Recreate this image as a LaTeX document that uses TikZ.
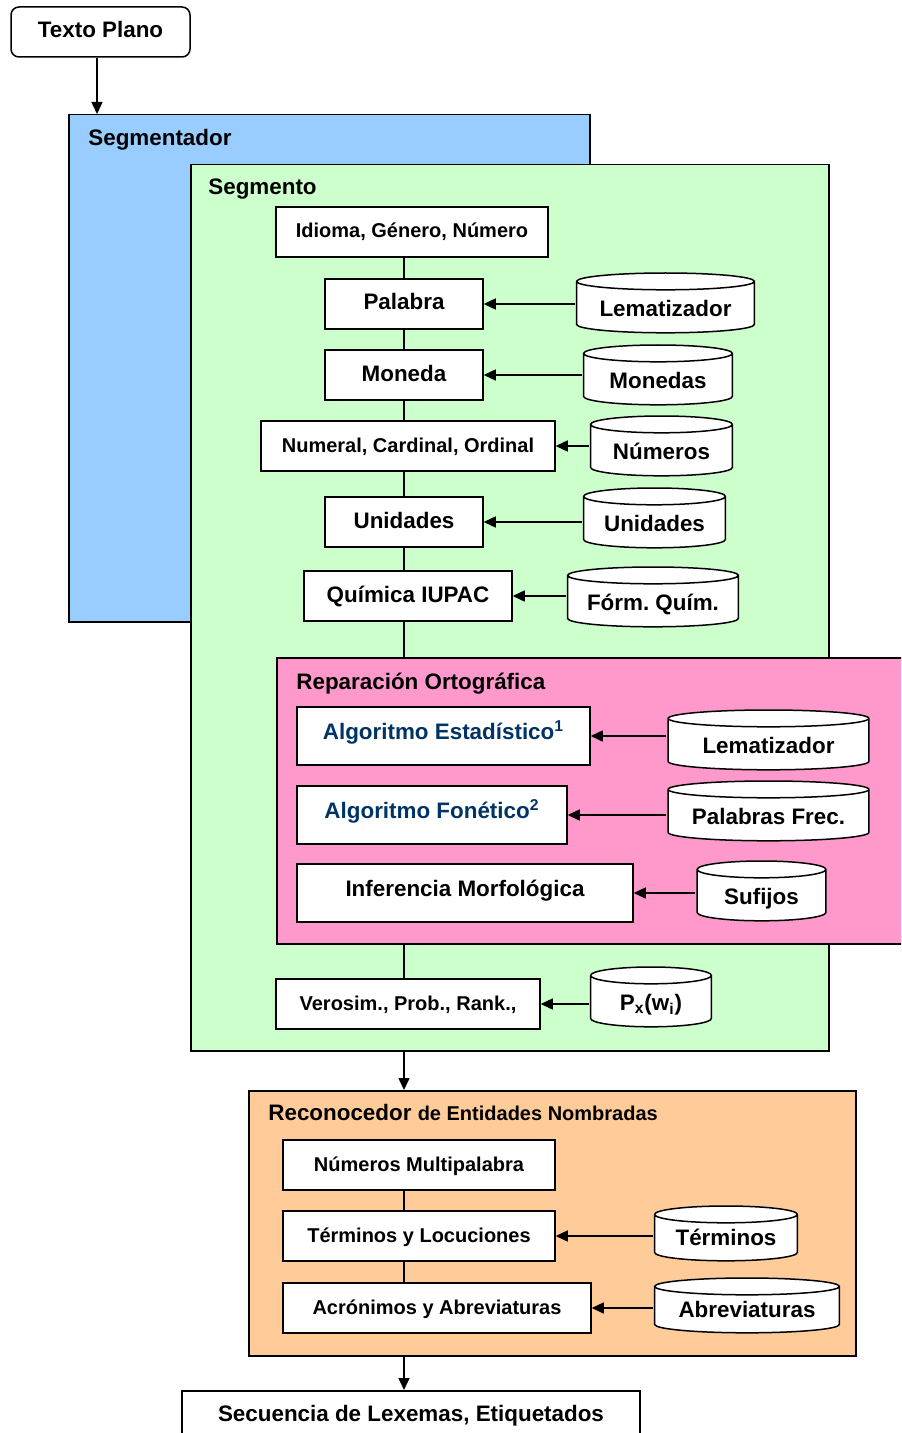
\documentclass[tikz,border=0pt]{standalone}
\usepackage{fontspec}
\setmainfont{Liberation Sans}
\usetikzlibrary{arrows.meta,calc}
\frenchspacing

\definecolor{segblue}{HTML}{99CCFF}
\definecolor{seggreen}{HTML}{CCFFCC}
\definecolor{reppink}{HTML}{FF99CC}
\definecolor{recorange}{HTML}{FFCC99}
\definecolor{algblue}{HTML}{003366}

\newcommand{\fbig}{\bfseries\fontsize{11.2}{13}\selectfont}
\newcommand{\fsmall}{\bfseries\fontsize{10}{12}\selectfont}

\tikzset{
    bigfont/.style={font=\fbig},
    smallfont/.style={font=\fsmall},
    panel/.style={draw, line width=0.75pt, inner sep=0pt, anchor=north west},
    title/.style={anchor=base west, inner sep=0pt},
    box/.style={draw, fill=white, line width=0.75pt, inner xsep=0pt, inner ysep=0pt,
        text height=15.5pt, text depth=9.5pt},
    tallbox/.style={box, text height=16pt, text depth=13pt},
    db/.style={bigfont, inner xsep=2pt, inner ysep=0pt, minimum width=#1,
        text height=22.5pt, text depth=9pt,
        path picture={
            \draw[fill=white, line width=0.75pt]
                let \p1=(path picture bounding box.south west),
                    \p2=(path picture bounding box.north east),
                    \n1={(\x2-\x1)/2-0.8pt} in
                ({\x1+0.8pt},{\y2-5pt}) -- ({\x1+0.8pt},{\y1+5pt})
                arc[start angle=180, end angle=360, x radius=\n1, y radius=4.2pt]
                -- ({\x2-0.8pt},{\y2-5pt})
                arc[start angle=0, end angle=180, x radius=\n1, y radius=4.2pt] -- cycle
                ({\x1+0.8pt},{\y2-5pt})
                arc[start angle=180, end angle=360, x radius=\n1, y radius=4.2pt];
        }},
    dbshort/.style={text height=20.5pt, text depth=8.5pt},
    link/.style={line width=0.75pt},
    arr/.style={line width=0.75pt, -{Triangle[length=6pt,width=5.5pt]}}
}

\begin{document}
\begin{tikzpicture}[x=0.5pt, y=-0.5pt]
    \useasboundingbox (0,0) rectangle (901,1433);
    \clip (0,0) rectangle (901,1433);

    % Input
    \node[box, bigfont, rounded corners=4pt, minimum width=89.5pt] (textoplano) at (100.5,32) {Texto Plano};

    % Segmentador
    \node[panel, fill=segblue, minimum width=260.5pt, minimum height=253.5pt] (segmentador) at (68,114) {};
    \node[title, bigfont] (segmentadortit) at (88,146) {Segmentador};

    % Segmento
    \node[panel, fill=seggreen, minimum width=319pt, minimum height=443pt] (segmento) at (190,164) {};
    \node[title, bigfont] (segmentotit) at (208,195) {Segmento};

    \node[box, smallfont, minimum width=136pt] (idioma) at (412,232) {Idioma, Género, Número};
    \node[box, bigfont, minimum width=79pt] (palabra) at (404,304) {Palabra};
    \node[box, bigfont, minimum width=79pt] (moneda) at (404,375) {Moneda};
    \node[box, smallfont, minimum width=147pt] (numeral) at (408,446) {Numeral, Cardinal, Ordinal};
    \node[box, bigfont, minimum width=79pt] (unidades) at (404,522) {Unidades};
    \node[box, bigfont, minimum width=104pt] (quimica) at (408,596) {Química IUPAC};

    \node[db=90.5pt, anchor=north] (lematizador) at (665.5,271) {Lematizador};
    \node[db=76pt, anchor=north] (monedas) at (658,343) {Monedas};
    \node[db=72.5pt, anchor=north] (numeros) at (661.5,414) {Números};
    \node[db=72.5pt, anchor=north] (unidadesdb) at (654.5,486) {Unidades};
    \node[db=87pt, anchor=north] (formulas) at (653,565) {Fórm. Quím.};

    \draw[link] (palabra.north) -- (palabra |- idioma.south);
    \foreach \a/\b in {palabra/moneda, moneda/numeral, numeral/unidades, unidades/quimica}
        \draw[link] (palabra |- \a.south) -- (palabra |- \b.north);
    \foreach \src/\dst in {lematizador/palabra, monedas/moneda, numeros/numeral, unidadesdb/unidades, formulas/quimica}
        \draw[arr] (\src.west |- \dst) -- (\dst.east);

    % Reparacion ortografica
    \node[panel, fill=reppink, minimum width=322pt, minimum height=143pt] (reparacion) at (276,657) {};
    \node[title, bigfont] (reparaciontit) at (296,689) {Reparación Ortográfica};

    \node[tallbox, bigfont, text=algblue, minimum width=146.5pt] (estadistico) at (443.5,736) {Algoritmo Estadístico\textsuperscript{1}};
    \node[tallbox, bigfont, text=algblue, minimum width=135pt] (fonetico) at (432,815) {Algoritmo Fonético\textsuperscript{2}};
    \node[tallbox, bigfont, minimum width=168pt] (morfologica) at (465,893) {Inferencia Morfológica};

    \node[db=102pt, anchor=north] (lematizadorb) at (768.5,708) {Lematizador};
    \node[db=102pt, anchor=north] (palabrasfrec) at (768.5,779) {Palabras Frec.};
    \node[db=66pt, anchor=north] (sufijos) at (761.5,859) {Sufijos};

    \foreach \src/\dst in {lematizadorb/estadistico, palabrasfrec/fonetico, sufijos/morfologica}
        \draw[arr] (\src.west |- \dst) -- (\dst.east);
    \draw[link] (palabra |- quimica.south) -- (palabra |- reparacion.north);

    % Verosimilitud
    \node[box, smallfont, minimum width=132pt] (verosim) at (408,1004) {Verosim., Prob., Rank.,};
    \node[db=62pt, anchor=north] (probabilidad) at (651,965) {P\textsubscript{x}(w\textsubscript{i})};
    \draw[link] (palabra |- reparacion.south) -- (palabra |- verosim.north);
    \draw[arr] (probabilidad.west |- verosim) -- (verosim.east);

    % Reconocedor
    \node[panel, fill=recorange, minimum width=303.5pt, minimum height=132.5pt] (reconocedor) at (248,1090) {};
    \node[title] (reconocedortit) at (268,1120) {\fbig Reconocedor \fsmall de Entidades Nombradas};

    \node[box, smallfont, minimum width=136pt] (multipalabra) at (419,1165) {Números Multipalabra};
    \node[box, smallfont, minimum width=136pt] (locuciones) at (419,1236) {Términos y Locuciones};
    \node[box, smallfont, minimum width=154pt] (acronimos) at (437,1308) {Acrónimos y Abreviaturas};

    \node[db=73pt, dbshort, anchor=north] (terminos) at (726,1204) {Términos};
    \node[db=94pt, dbshort, anchor=north] (abreviaturas) at (747,1276) {Abreviaturas};

    \draw[link] (palabra |- multipalabra.south) -- (palabra |- locuciones.north);
    \draw[link] (palabra |- locuciones.south) -- (palabra |- acronimos.north);
    \foreach \src/\dst in {terminos/locuciones, abreviaturas/acronimos}
        \draw[arr] (\src.west |- \dst) -- (\dst.east);

    % Output
    \node[box, bigfont, minimum width=229pt, anchor=north] (secuencia) at (411,1390) {Secuencia de Lexemas, Etiquetados};

    % Arrows
    \draw[arr] ([xshift=-1.75pt]textoplano.south) -- ([xshift=-1.75pt]textoplano.south |- segmentador.north);
    \draw[arr] (palabra |- segmento.south) -- (palabra |- reconocedor.north);
    \draw[arr] (palabra |- reconocedor.south) -- (palabra |- secuencia.north);
\end{tikzpicture}
\end{document}
